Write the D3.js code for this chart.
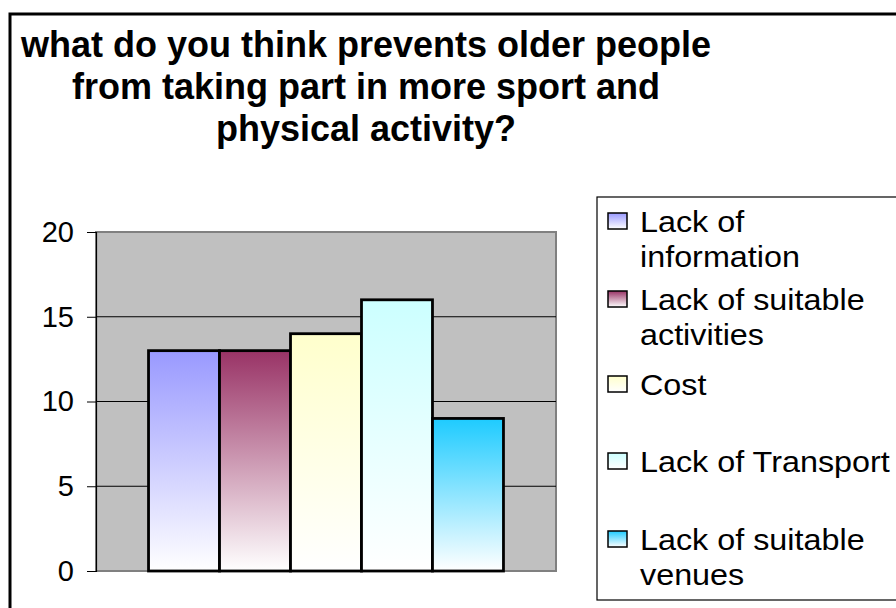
<!DOCTYPE html>
<html>
<head>
<meta charset="utf-8">
<script src="https://cdn.jsdelivr.net/npm/d3@7/dist/d3.min.js"></script>
<style>
  html, body { margin: 0; padding: 0; background: #ffffff; }
  svg { display: block; font-family: Arial, "Liberation Sans", sans-serif; }
</style>
</head>
<body>
<svg id="chart" width="896" height="608"></svg>
<script>
// Survey answers: one series per barrier, counts of responses
const seriesNames = [
  "Lack of information",
  "Lack of suitable activities",
  "Cost",
  "Lack of Transport",
  "Lack of suitable venues"
];
const legendLines = [
  ["Lack of", "information"],
  ["Lack of suitable", "activities"],
  ["Cost"],
  ["Lack of Transport"],
  ["Lack of suitable", "venues"]
];
const values = [13, 13, 14, 16, 9];
const seriesColors = ["#9999ff", "#993366", "#ffffcc", "#ccffff", "#1ecbff"];
const yTicks = [0, 5, 10, 15, 20];
const titleLines = [
  "what do you think prevents older people",
  "from taking part in more sport and",
  "physical activity?"
];

const svg = d3.select("#chart");

// Plot area
const plot = { left: 96, right: 556, top: 232, bottom: 571 };

const defs = svg.append("defs");
seriesColors.forEach((c, i) => {
  const g = defs.append("linearGradient")
    .attr("id", "grad" + i)
    .attr("x1", 0).attr("y1", 0).attr("x2", 0).attr("y2", 1);
  g.append("stop").attr("offset", "0%").attr("stop-color", c);
  g.append("stop").attr("offset", "100%").attr("stop-color", "#ffffff");
});

// Chart frame
svg.append("rect")
  .attr("x", 10).attr("y", 14)
  .attr("width", 1000).attr("height", 800)
  .attr("fill", "#ffffff")
  .attr("stroke", "#000000")
  .attr("stroke-width", 3);

// Title
const title = svg.append("text")
  .attr("text-anchor", "middle")
  .attr("font-weight", "bold")
  .attr("font-size", 36)
  .attr("fill", "#000000");
titleLines.forEach((t, i) => {
  title.append("tspan")
    .attr("x", 366)
    .attr("y", 57 + i * 42)
    .text(t);
});

// Scales
const y = d3.scaleLinear().domain([0, 20]).range([plot.bottom, plot.top]);
const x0 = d3.scaleBand().domain([""]).range([plot.left, plot.right]).paddingOuter(0.148).paddingInner(0);
const x1 = d3.scaleBand().domain(seriesNames).range([0, x0.bandwidth()]).padding(0);

// Plot background
svg.append("rect")
  .attr("x", plot.left).attr("y", plot.top)
  .attr("width", plot.right - plot.left)
  .attr("height", plot.bottom - plot.top)
  .attr("fill", "#c0c0c0")
  .attr("stroke", "#808080")
  .attr("stroke-width", 2);

// Gridlines
svg.append("g")
  .selectAll("line")
  .data(yTicks.filter(d => d > 0 && d < 20))
  .join("line")
  .attr("x1", plot.left).attr("x2", plot.right)
  .attr("y1", d => y(d)).attr("y2", d => y(d))
  .attr("stroke", "#000000")
  .attr("stroke-width", 1);

// Y axis
const yAxis = svg.append("g")
  .attr("transform", `translate(${plot.left},0)`)
  .call(d3.axisLeft(y).tickValues(yTicks).tickSize(9).tickPadding(13));
yAxis.select(".domain").attr("stroke", "#000000").attr("stroke-width", 1.2);
yAxis.selectAll(".tick line").attr("stroke", "#000000");
yAxis.selectAll(".tick text")
  .attr("font-size", 29)
  .attr("font-family", "Arial, 'Liberation Sans', sans-serif")
  .attr("fill", "#000000");

// Bars
svg.append("g")
  .selectAll("rect")
  .data(values)
  .join("rect")
  .attr("x", (d, i) => x0("") + x1(seriesNames[i]))
  .attr("y", d => y(d))
  .attr("width", x1.bandwidth())
  .attr("height", d => y(0) - y(d))
  .attr("fill", (d, i) => `url(#grad${i})`)
  .attr("stroke", "#000000")
  .attr("stroke-width", 2.8);

// Legend
svg.append("rect")
  .attr("x", 597).attr("y", 197)
  .attr("width", 400).attr("height", 403)
  .attr("fill", "#ffffff")
  .attr("stroke", "#000000")
  .attr("stroke-width", 1.2);

const legendBaselines = [232, 310, 395, 472, 550];
const legendLineGap = 35;
const textX = 640;
const legend = svg.append("g");
legendLines.forEach((lines, i) => {
  const by = legendBaselines[i];
  legend.append("rect")
    .attr("x", 608).attr("y", by - 19)
    .attr("width", 19).attr("height", 16)
    .attr("fill", `url(#grad${i})`)
    .attr("stroke", "#000000")
    .attr("stroke-width", 1.5);
  const t = legend.append("text")
    .attr("font-size", 29)
    .attr("fill", "#000000")
    .attr("transform", `translate(${textX},0) scale(1.115,1)`);
  lines.forEach((ln, j) => {
    t.append("tspan")
      .attr("x", 0)
      .attr("y", by + j * legendLineGap)
      .text(ln);
  });
});
</script>
</body>
</html>
